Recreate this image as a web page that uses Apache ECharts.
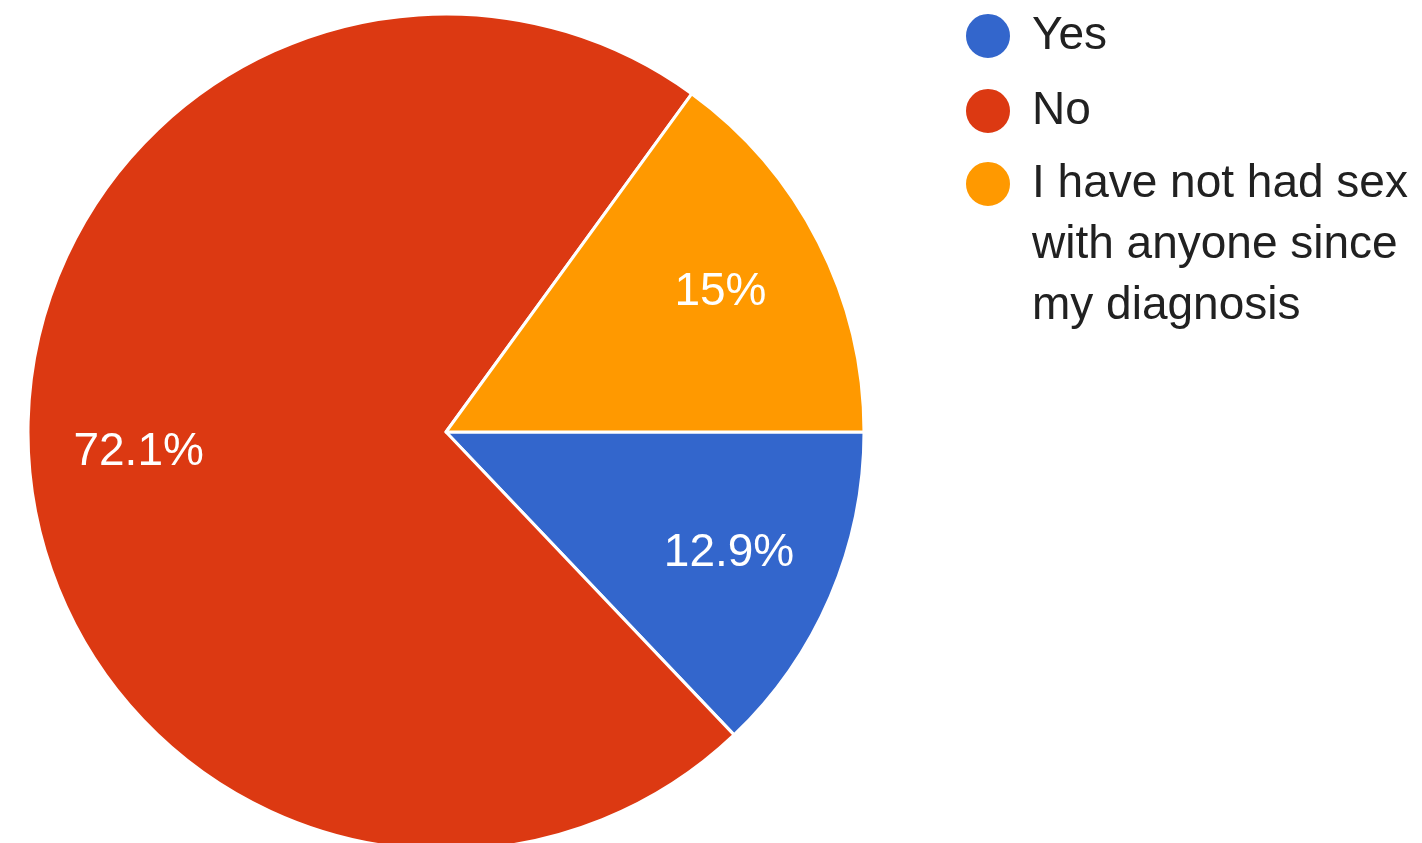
<!DOCTYPE html>
<html>
<head>
<meta charset="utf-8">
<script src="https://cdn.jsdelivr.net/npm/echarts@6/dist/echarts.min.js"></script>
<style>
  html, body { margin: 0; padding: 0; background: #ffffff; }
  #chart { width: 1422px; height: 843px; }
</style>
</head>
<body>
<div id="chart"></div>
<script>
var categories = ['Yes', 'No', 'I have not had sex with anyone since my diagnosis'];
var percents = [12.9, 72.1, 15.0];
var colors = ['#3366CC', '#DC3912', '#FF9900'];
var wrappedLabels = {
  'I have not had sex with anyone since my diagnosis': '\n\nI have not had sex\nwith anyone since\nmy diagnosis'
};

var pieData = categories.map(function (c, i) {
  return { name: c, value: percents[i] };
});

var FONT = '"Liberation Sans", Arial, sans-serif';
var chart = echarts.init(document.getElementById('chart'), null, { renderer: 'canvas' });

chart.setOption({
  animation: false,
  backgroundColor: '#ffffff',
  color: colors,
  legend: [
    {
      data: [categories[0], categories[1]],
      orient: 'vertical',
      left: 964,
      top: 12,
      padding: 0,
      icon: 'circle',
      itemWidth: 78,
      itemHeight: 46,
      itemGap: 27,
      selectedMode: false,
      textStyle: { fontFamily: FONT, fontSize: 46, color: '#212121', lineHeight: 46 }
    },
    {
      data: [categories[2]],
      orient: 'vertical',
      left: 964,
      top: 31.5,
      padding: 0,
      icon: 'circle',
      itemWidth: 78,
      itemHeight: 46,
      selectedMode: false,
      formatter: function (name) { return wrappedLabels[name] || name; },
      textStyle: { fontFamily: FONT, fontSize: 46, color: '#212121', lineHeight: 61 }
    }
  ],
  series: [
    {
      type: 'pie',
      center: [446, 432],
      radius: [0, 418],
      startAngle: 0,
      clockwise: true,
      data: pieData,
      label: { show: false },
      labelLine: { show: false },
      itemStyle: { borderColor: '#ffffff', borderWidth: 3 },
      emphasis: { disabled: true }
    },
    {
      type: 'pie',
      center: [446, 432],
      radius: [192, 418],
      startAngle: 0,
      clockwise: true,
      silent: true,
      data: pieData,
      itemStyle: { color: 'rgba(0,0,0,0)', borderWidth: 0 },
      label: {
        show: true,
        position: 'inside',
        formatter: function (p) { return p.value + '%'; },
        color: '#ffffff',
        fontFamily: FONT,
        fontSize: 46
      },
      labelLine: { show: false },
      emphasis: { disabled: true }
    }
  ]
});
</script>
</body>
</html>
